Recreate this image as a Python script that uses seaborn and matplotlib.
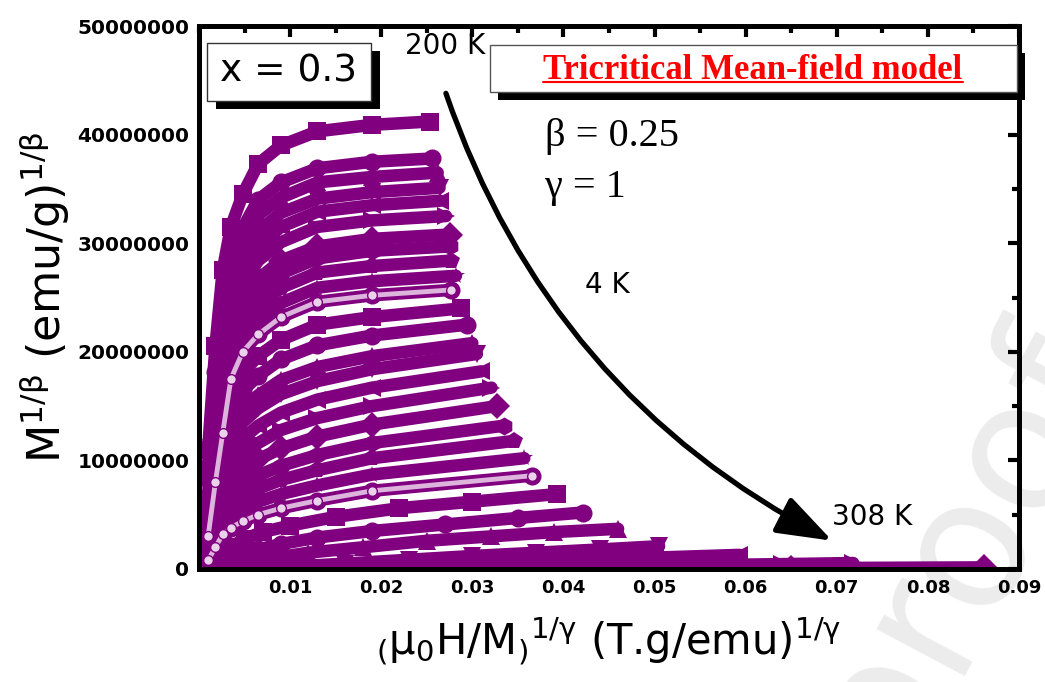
import matplotlib
matplotlib.use("Agg")
import matplotlib.pyplot as plt
from matplotlib.patches import Rectangle, FancyArrowPatch
from matplotlib.lines import Line2D
from matplotlib.ticker import MultipleLocator
import pandas as pd
import seaborn as sns

W, H = 1045, 682
PURPLE = "#800080"

# ---------------- data (y values in units of 1e6) ----------------
# curves 1..22 share the low-field x positions, each with its own last point
x_grid = [0.0010, 0.0018, 0.0026, 0.0035, 0.0048, 0.0065, 0.0090, 0.0130, 0.0190]
x_end_upper = [0.0253, 0.0256, 0.0262, 0.0264, 0.0264, 0.0271, 0.0275, 0.0275,
               0.0277, 0.0282, 0.0277, 0.0288, 0.0294, 0.0300, 0.0305, 0.0310,
               0.0321, 0.0327, 0.0335, 0.0346, 0.0357, 0.0366]
y_c01 = [11.0, 20.5, 27.5, 31.5, 34.5, 37.3, 39.0, 40.3, 40.9, 41.2]
y_c02 = [9.5, 18.1, 24.5, 28.6, 31.4, 34.0, 35.6, 36.9, 37.5, 37.8]
y_c03 = [8.7, 16.8, 23.0, 27.3, 30.1, 32.6, 34.2, 35.6, 36.1, 36.5]
y_c04 = [7.8, 15.5, 21.5, 26.0, 28.7, 31.1, 32.8, 34.1, 34.7, 35.1]
y_c05 = [7.0, 14.3, 20.2, 24.8, 27.6, 29.8, 31.5, 32.9, 33.5, 33.9]
y_c06 = [6.2, 13.2, 18.8, 23.5, 26.3, 28.4, 30.1, 31.5, 32.1, 32.5]
y_c07 = [5.5, 11.9, 17.2, 22.0, 24.7, 26.7, 28.4, 29.7, 30.4, 30.8]
y_c08 = [4.8, 10.9, 16.0, 21.0, 23.6, 25.5, 27.2, 28.6, 29.3, 29.7]
y_c09 = [4.2, 9.9, 14.8, 19.8, 22.4, 24.2, 25.9, 27.3, 27.9, 28.4]
y_c10 = [3.6, 8.9, 13.6, 18.6, 21.2, 22.9, 24.5, 25.9, 26.5, 27.0]
y_c11 = [3.0, 8.0, 12.5, 17.5, 20.0, 21.6, 23.2, 24.6, 25.2, 25.7]
y_c12 = [2.8, 7.3, 11.4, 15.8, 18.1, 19.6, 21.1, 22.5, 23.2, 24.0]
y_c13 = [2.5, 6.7, 10.5, 14.3, 16.4, 17.8, 19.3, 20.6, 21.5, 22.5]
y_c14 = [2.3, 6.0, 9.5, 12.8, 14.7, 16.0, 17.4, 18.6, 19.6, 20.8]
y_c15 = [2.2, 5.6, 8.8, 11.8, 13.5, 14.8, 16.1, 17.3, 18.4, 19.8]
y_c16 = [1.9, 5.0, 7.9, 10.4, 12.0, 13.2, 14.4, 15.6, 16.7, 18.2]
y_c17 = [1.7, 4.5, 7.1, 9.2, 10.6, 11.6, 12.8, 13.9, 15.0, 16.7]
y_c18 = [1.5, 3.9, 6.2, 7.9, 9.1, 10.1, 11.1, 12.2, 13.3, 15.0]
y_c19 = [1.3, 3.4, 5.3, 6.7, 7.7, 8.6, 9.5, 10.5, 11.6, 13.2]
y_c20 = [1.1, 2.9, 4.6, 5.7, 6.6, 7.4, 8.2, 9.1, 10.2, 11.8]
y_c21 = [1.0, 2.4, 3.9, 4.7, 5.5, 6.2, 6.9, 7.7, 8.7, 10.2]
y_c22 = [0.8, 2.0, 3.2, 3.8, 4.4, 5.0, 5.6, 6.3, 7.2, 8.6]

# high-temperature curves, each with its own x positions
x_c23 = [0.0015, 0.0025, 0.0035, 0.005, 0.007, 0.010, 0.015, 0.022, 0.030, 0.0393]
y_c23 = [0.4, 1.2, 2.0, 2.8, 3.4, 4.0, 4.8, 5.6, 6.2, 6.9]
x_c24 = [0.002, 0.003, 0.0045, 0.0065, 0.009, 0.013, 0.019, 0.027, 0.035, 0.0421]
y_c24 = [0.2, 0.6, 1.2, 1.8, 2.3, 2.9, 3.5, 4.1, 4.7, 5.2]
x_c25 = [0.003, 0.005, 0.008, 0.012, 0.018, 0.025, 0.032, 0.039, 0.046]
y_c25 = [0.2, 0.6, 1.0, 1.5, 2.0, 2.6, 3.0, 3.4, 3.7]
x_c26 = [0.006, 0.010, 0.016, 0.023, 0.030, 0.037, 0.044, 0.0505]
y_c26 = [0.05, 0.2, 0.5, 0.85, 1.2, 1.5, 1.8, 2.1]
x_c27 = [0.010, 0.018, 0.026, 0.034, 0.042, 0.050, 0.0593]
y_c27 = [0.0, 0.15, 0.35, 0.6, 0.85, 1.05, 1.3]
x_c28 = [0.015, 0.025, 0.035, 0.045, 0.055, 0.064, 0.0718]
y_c28 = [0.0, 0.05, 0.15, 0.25, 0.35, 0.45, 0.55]
x_c29 = [0.020, 0.035, 0.050, 0.065, 0.0862]
y_c29 = [0.0, 0.02, 0.05, 0.08, 0.15]

marker_cycle = ["s", "o", "^", "v", "<", ">", "D", "h", "p", "*", "o"]
sphere_curves = ["c11", "c22"]

xticks = [0.01, 0.02, 0.03, 0.04, 0.05, 0.06, 0.07, 0.08, 0.09]
xtick_labels = ["0.01", "0.02", "0.03", "0.04", "0.05", "0.06", "0.07", "0.08", "0.09"]
yticks = [0, 10000000, 20000000, 30000000, 40000000, 50000000]
ytick_labels = ["0", "10000000", "20000000", "30000000", "40000000", "50000000"]

# ---------------- assemble long-form table ----------------
upper_y = [y_c01, y_c02, y_c03, y_c04, y_c05, y_c06, y_c07, y_c08, y_c09, y_c10, y_c11,
           y_c12, y_c13, y_c14, y_c15, y_c16, y_c17, y_c18, y_c19, y_c20, y_c21, y_c22]
lower = [(x_c23, y_c23), (x_c24, y_c24), (x_c25, y_c25), (x_c26, y_c26),
         (x_c27, y_c27), (x_c28, y_c28), (x_c29, y_c29)]
rows = []
for i, ys in enumerate(upper_y):
    xs = x_grid + [x_end_upper[i]]
    for xv, yv in zip(xs, ys):
        rows.append((f"c{i + 1:02d}", xv, yv * 1e6))
for j, (xs, ys) in enumerate(lower):
    for xv, yv in zip(xs, ys):
        rows.append((f"c{23 + j:02d}", xv, yv * 1e6))
df = pd.DataFrame(rows, columns=["curve", "x", "y"])
names = list(dict.fromkeys(df["curve"]))
marker_map = {n: marker_cycle[k % len(marker_cycle)] for k, n in enumerate(names)}
palette = {n: PURPLE for n in names}

# ---------------- figure ----------------
sns.set_style("white")
plt.rcParams["font.family"] = ["DejaVu Sans"]
plt.rcParams["mathtext.fontset"] = "dejavusans"
plt.rcParams["text.color"] = "black"
plt.rcParams["axes.labelcolor"] = "black"
plt.rcParams["xtick.color"] = "black"
plt.rcParams["ytick.color"] = "black"

fig = plt.figure(figsize=(W / 100, H / 100), dpi=100)
ax = fig.add_axes([199 / W, 1 - 569 / H, 820 / W, 543 / H])
ax.set_facecolor("none")

sns.lineplot(data=df, x="x", y="y", hue="curve", style="curve", markers=marker_map,
             dashes=False, palette=palette, linewidth=9, markersize=13,
             markeredgewidth=0, sort=False, estimator=None, legend=False, ax=ax)

# shaded-sphere series: light core on the purple band
df_s = df[df["curve"].isin(sphere_curves)]
sns.lineplot(data=df_s, x="x", y="y", units="curve", estimator=None, sort=False,
             color="#dcb4dc", linewidth=3.5, marker="o", markersize=7,
             markerfacecolor="#ead2ea", markeredgecolor=PURPLE, markeredgewidth=1,
             legend=False, ax=ax)

ax.set_xlim(0, 0.09)
ax.set_ylim(0, 5e7)
ax.set_xticks(xticks)
ax.set_xticklabels(xtick_labels)
ax.set_yticks(yticks)
ax.set_yticklabels(ytick_labels)
ax.xaxis.set_minor_locator(MultipleLocator(0.005))
ax.yaxis.set_minor_locator(MultipleLocator(5e6))
ax.tick_params(which="both", direction="in", top=True, right=True, width=3,
               colors="black")
ax.tick_params(axis="y", which="major", labelsize=14.5)
ax.tick_params(axis="x", which="major", labelsize=13)
ax.tick_params(which="major", length=8, pad=7)
ax.tick_params(which="minor", length=5)
for lbl in ax.get_xticklabels() + ax.get_yticklabels():
    lbl.set_fontweight("bold")
for s in ax.spines.values():
    s.set_visible(True)
    s.set_linewidth(3.6)
    s.set_color("black")

ax.set_ylabel(r"M$^{\mathregular{1/β}}$ (emu/g)$^{\mathregular{1/β}}$", fontsize=32, labelpad=4)
ax.set_xlabel(r"$_{\mathregular{(}}$μ$_{\mathregular{0}}$H/M$_{\mathregular{)}}$"
              r"$^{\mathregular{1/γ}}$ (T.g/emu)$^{\mathregular{1/γ}}$",
              fontsize=30, labelpad=14)


def fx(px):
    return px / W


def fy(py):
    return 1 - py / H


# watermark
fig.text(fx(1130), fy(385), "Journal Pre-proof", fontsize=130, color="#ececec",
         rotation=62, ha="right", va="baseline", rotation_mode="anchor", zorder=-1)

# x = 0.3 box with shadow
fig.patches.append(Rectangle((fx(216), fy(109)), (371 - 207) / W, (101 - 43) / H,
                             transform=fig.transFigure, facecolor="black",
                             edgecolor="none", zorder=5))
fig.patches.append(Rectangle((fx(207), fy(101)), (371 - 207) / W, (101 - 43) / H,
                             transform=fig.transFigure, facecolor="white",
                             edgecolor="#333333", linewidth=1, zorder=6))
fig.text(fx(289), fy(72), "x = 0.3", fontsize=27, ha="center", va="center", zorder=7)

# Tricritical box with shadow
fig.patches.append(Rectangle((fx(498), fy(100)), (1017 - 490) / W, (92 - 45) / H,
                             transform=fig.transFigure, facecolor="black",
                             edgecolor="none", zorder=5))
fig.patches.append(Rectangle((fx(490), fy(92)), (1017 - 490) / W, (92 - 45) / H,
                             transform=fig.transFigure, facecolor="white",
                             edgecolor="#555555", linewidth=1, zorder=6))
t_tri = fig.text(fx(753), fy(79), "Tricritical Mean-field model", fontsize=25,
                 family="Liberation Serif", fontweight="bold", color="red",
                 ha="center", va="baseline", zorder=7)

fig.text(fx(545), fy(146), "β = 0.25", fontsize=29, family="Liberation Serif",
         ha="left", va="baseline")
fig.text(fx(545), fy(197), "γ = 1", fontsize=29, family="Liberation Serif",
         ha="left", va="baseline")

fig.text(fx(445), fy(46), "200 K", fontsize=20, ha="center", va="center")
fig.text(fx(607), fy(285), "4 K", fontsize=20, ha="center", va="center")
fig.text(fx(872), fy(517), "308 K", fontsize=20, ha="center", va="center")

arrow = FancyArrowPatch(posA=(0.0271, 43.8e6), posB=(0.0695, 2.6e6),
                        connectionstyle="arc3,rad=0.2",
                        arrowstyle="-|>,head_length=0.85,head_width=0.3",
                        mutation_scale=40, lw=3.8, color="black",
                        shrinkA=0, shrinkB=0, transform=ax.transData, zorder=8)
ax.add_patch(arrow)

# underline for the red title
fig.canvas.draw()
bb = t_tri.get_window_extent()
fig.add_artist(Line2D([bb.x0 / W, bb.x1 / W], [fy(82), fy(82)], transform=fig.transFigure,
                      color="red", linewidth=1.5, zorder=7))

fig.savefig("out.png", dpi=100)
